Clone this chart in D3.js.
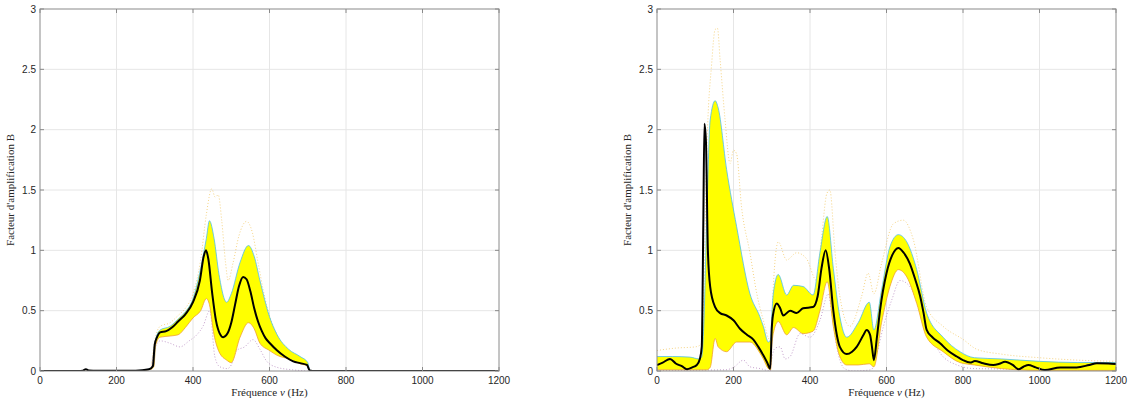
<!DOCTYPE html>
<html>

<head>
    <meta charset="utf-8">
    <style>
        body {
            margin: 0;
            background: #fff;
        }

        svg {
            display: block;
        }

        .tick-label {
            font-family: 'Liberation Sans', Arial, sans-serif;
            font-size: 10px;
            fill: #262626;
        }

        .axis-title {
            font-family: 'Liberation Serif', 'DejaVu Serif', serif;
            font-size: 11px;
            fill: #262626;
        }
    </style>
</head>

<body>
    <svg width="1129" height="403"></svg>
</body>

<script src="https://d3js.org/d3.v7.min.js"></script>

<script>
    // tick labels
    let xTicks = [0, 200, 400, 600, 800, 1000, 1200]
    let yTicks = [0, 0.5, 1, 1.5, 2, 2.5, 3]

    // ---- left panel ----
    // yellow band, upper and lower edge on a common frequency grid
    let leftBandF = [0, 100, 115, 120, 125, 140, 250, 290, 298, 302, 314, 340, 361, 380, 400, 420, 435, 443, 455, 468, 488, 500, 523, 545, 560, 575, 600, 620, 650, 680, 700, 705, 710, 800, 1200]
    let leftBandHi = [0, 0, 0.005, 0.015, 0.005, 0, 0.003, 0.02, 0.05, 0.26, 0.34, 0.37, 0.43, 0.49, 0.6, 0.85, 1.1, 1.245, 1.1, 0.8, 0.57, 0.64, 0.9, 1.04, 0.95, 0.75, 0.45, 0.3, 0.18, 0.12, 0.07, 0.01, 0, 0, 0]
    let leftBandLo = [0, 0, 0.005, 0.012, 0.005, 0, 0.002, 0.015, 0.04, 0.21, 0.28, 0.29, 0.3, 0.36, 0.44, 0.5, 0.6, 0.55, 0.3, 0.16, 0.09, 0.07, 0.28, 0.4, 0.35, 0.23, 0.17, 0.13, 0.1, 0.06, 0.04, 0.005, 0, 0, 0]

    // black mean curve [frequency, B]
    let leftMean = [[0, 0], [100, 0], [112, 0.003], [120, 0.015], [128, 0.004], [150, 0.002], [250, 0.003], [285, 0.015], [295, 0.04], [300, 0.22], [306, 0.28], [314, 0.32], [330, 0.33], [345, 0.36], [361, 0.41], [380, 0.47], [400, 0.57], [418, 0.75], [428, 0.95], [434, 1.0], [440, 0.93], [450, 0.65], [460, 0.42], [470, 0.31], [479, 0.28], [490, 0.31], [500, 0.4], [510, 0.55], [520, 0.7], [531, 0.78], [540, 0.76], [550, 0.66], [560, 0.52], [570, 0.41], [580, 0.33], [590, 0.27], [601, 0.23], [620, 0.17], [640, 0.12], [662, 0.08], [680, 0.065], [698, 0.05], [705, 0.005], [720, 0], [1200, 0]]

    // dotted extremes
    let leftMax = [[290, 0.02], [300, 0.25], [314, 0.37], [340, 0.4], [361, 0.46], [380, 0.52], [400, 0.64], [420, 0.92], [435, 1.3], [449, 1.51], [458, 1.44], [466, 1.46], [475, 1.25], [485, 0.9], [492, 0.75], [505, 0.9], [520, 1.12], [540, 1.24], [555, 1.15], [570, 0.9], [585, 0.65], [601, 0.45], [620, 0.3], [650, 0.17], [680, 0.09], [697, 0.05], [705, 0]]
    let leftMin = [[290, 0.01], [300, 0.18], [314, 0.25], [340, 0.23], [366, 0.2], [390, 0.25], [410, 0.3], [426, 0.37], [444, 0.5], [457, 0.12], [470, 0.035], [490, 0.02], [500, 0.05], [514, 0.17], [535, 0.2], [557, 0.26], [575, 0.18], [593, 0.08], [620, 0.03], [660, 0.01], [700, 0]]

    // ---- right panel ----
    let rightBandF = [0, 40, 86, 110, 117, 122, 130, 139, 152, 160, 182, 208, 243, 269, 278, 291, 297, 300, 304, 317, 339, 357, 382, 408, 426, 445, 461, 478, 496, 526, 555, 567, 587, 609, 631, 653, 679, 705, 748, 792, 830, 900, 1000, 1100, 1200]
    let rightBandHi = [0.12, 0.12, 0.115, 0.1, 0.12, 0.35, 1.25, 2.08, 2.24, 2.18, 1.67, 1.2, 0.64, 0.45, 0.37, 0.24, 0.26, 0.45, 0.64, 0.8, 0.63, 0.71, 0.7, 0.63, 0.98, 1.28, 0.85, 0.45, 0.28, 0.4, 0.57, 0.34, 0.67, 1.03, 1.13, 1.07, 0.84, 0.48, 0.28, 0.16, 0.11, 0.1, 0.08, 0.07, 0.07]
    let rightBandLo = [0.01, 0.01, 0.01, 0.01, 0.01, 0.01, 0.01, 0.03, 0.27, 0.2, 0.16, 0.24, 0.24, 0.15, 0.1, 0.02, 0.01, 0.2, 0.31, 0.41, 0.3, 0.36, 0.31, 0.33, 0.5, 0.74, 0.37, 0.12, 0.05, 0.05, 0.06, 0.035, 0.4, 0.7, 0.84, 0.78, 0.56, 0.28, 0.16, 0.07, 0.05, 0.02, 0.005, 0.005, 0.005]

    let rightMean = [[0, 0.05], [15, 0.07], [34, 0.1], [50, 0.06], [65, 0.04], [78, 0.015], [92, 0.03], [104, 0.05], [112, 0.1], [117, 0.2], [121, 1.2], [124, 2.05], [128, 1.9], [133, 1.0], [139, 0.7], [152, 0.53], [165, 0.48], [182, 0.46], [200, 0.42], [217, 0.35], [235, 0.3], [252, 0.26], [265, 0.2], [278, 0.13], [288, 0.07], [296, 0.02], [300, 0.35], [303, 0.46], [313, 0.56], [322, 0.52], [330, 0.46], [348, 0.5], [365, 0.48], [382, 0.52], [408, 0.53], [420, 0.62], [430, 0.85], [441, 1.0], [450, 0.85], [461, 0.5], [470, 0.3], [478, 0.2], [496, 0.14], [510, 0.16], [522, 0.2], [540, 0.3], [548, 0.34], [557, 0.3], [562, 0.2], [567, 0.09], [575, 0.28], [583, 0.5], [600, 0.81], [615, 0.96], [631, 1.02], [645, 0.98], [661, 0.89], [675, 0.76], [688, 0.62], [697, 0.48], [705, 0.34], [720, 0.28], [740, 0.23], [760, 0.17], [784, 0.12], [800, 0.09], [819, 0.07], [831, 0.083], [853, 0.064], [879, 0.05], [895, 0.06], [910, 0.077], [930, 0.05], [945, 0.014], [958, 0.035], [971, 0.05], [990, 0.03], [1014, 0.008], [1054, 0.03], [1097, 0.03], [1130, 0.05], [1150, 0.064], [1180, 0.062], [1200, 0.058]]

    let rightMax = [[0, 0.17], [50, 0.19], [100, 0.2], [115, 0.22], [122, 0.6], [130, 1.8], [143, 2.55], [152, 2.83], [158, 2.84], [165, 2.58], [178, 2.08], [191, 1.72], [200, 1.83], [208, 1.8], [221, 1.36], [243, 0.98], [261, 0.64], [278, 0.42], [295, 0.26], [299, 0.3], [304, 0.7], [317, 1.07], [339, 0.92], [365, 0.98], [391, 0.93], [417, 0.75], [430, 1.1], [444, 1.47], [452, 1.5], [465, 1.0], [478, 0.62], [504, 0.37], [535, 0.62], [552, 0.81], [567, 0.64], [587, 0.89], [618, 1.22], [644, 1.25], [670, 1.09], [705, 0.53], [748, 0.37], [801, 0.26], [836, 0.18], [900, 0.14], [1000, 0.11], [1100, 0.09], [1200, 0.08]]
    let rightMin = [[0, 0.005], [180, 0.01], [200, 0.03], [226, 0.09], [243, 0.035], [270, 0.02], [296, 0], [300, 0.1], [309, 0.19], [322, 0.2], [335, 0.1], [348, 0.12], [374, 0.31], [400, 0.28], [426, 0.42], [448, 0.64], [456, 0.5], [470, 0.2], [490, 0.02], [513, 0], [560, 0.01], [575, 0.15], [592, 0.37], [615, 0.6], [635, 0.75], [661, 0.7], [696, 0.45], [740, 0.15], [784, 0.05], [830, 0.02], [1200, 0.01]]

    let svg = d3.select("svg")

    function drawPanel(left, p) {
        let right = left + 459
        let top = 9
        let bottom = 371

        let x = d3.scaleLinear().domain([0, 1200]).range([left, right])
        let y = d3.scaleLinear().domain([0, 3]).range([bottom, top])

        let g = svg.append("g")

        // grid
        g.selectAll(".vgrid")
            .data(xTicks.slice(1, -1))
            .join("line")
            .attr("x1", d => x(d)).attr("x2", d => x(d))
            .attr("y1", top).attr("y2", bottom)
            .style("stroke", "#e6e6e6")
        g.selectAll(".hgrid")
            .data(yTicks.slice(1, -1))
            .join("line")
            .attr("x1", left).attr("x2", right)
            .attr("y1", d => y(d)).attr("y2", d => y(d))
            .style("stroke", "#e6e6e6")

        let clip = "clip" + left
        svg.append("clipPath").attr("id", clip)
            .append("rect")
            .attr("x", left).attr("y", top)
            .attr("width", right - left).attr("height", bottom - top)

        let plot = g.append("g").attr("clip-path", "url(#" + clip + ")")

        let band = p.bandF.map((f, i) => ({ f: f, hi: p.hi[i], lo: p.lo[i] }))

        let area = d3.area()
            .x(d => x(d.f))
            .y0(d => y(d.lo))
            .y1(d => y(d.hi))
            .curve(d3.curveMonotoneX)

        let line = d3.line()
            .x(d => x(d[0]))
            .y(d => y(d[1]))
            .curve(d3.curveMonotoneX)

        // dotted extremes first, behind the band
        plot.append("path")
            .attr("d", line(p.max))
            .style("fill", "none")
            .style("stroke", "#EDB120")
            .style("stroke-opacity", 0.55)
            .style("stroke-width", 1)
            .style("stroke-dasharray", "1,2")
        plot.append("path")
            .attr("d", line(p.min))
            .style("fill", "none")
            .style("stroke", "#7E2F8E")
            .style("stroke-opacity", 0.45)
            .style("stroke-width", 1)
            .style("stroke-dasharray", "1,2")

        plot.append("path")
            .attr("d", area(band))
            .style("fill", "#ffff00")

        plot.append("path")
            .attr("d", line(band.map(d => [d.f, d.hi])))
            .style("fill", "none")
            .style("stroke", "#4DBEEE")
            .style("stroke-width", 0.8)
        plot.append("path")
            .attr("d", line(band.map(d => [d.f, d.lo])))
            .style("fill", "none")
            .style("stroke", "#F0A030")
            .style("stroke-width", 0.8)

        plot.append("path")
            .attr("d", line(p.mean))
            .style("fill", "none")
            .style("stroke", "#000")
            .style("stroke-width", 2)
            .style("stroke-linejoin", "round")

        // box and inward ticks
        g.append("rect")
            .attr("x", left).attr("y", top)
            .attr("width", right - left).attr("height", bottom - top)
            .style("fill", "none")
            .style("stroke", "#8a8a8a")
            .style("stroke-width", 1)

        xTicks.forEach(t => {
            g.append("line").attr("x1", x(t)).attr("x2", x(t)).attr("y1", bottom).attr("y2", bottom - 4).style("stroke", "#8a8a8a")
            g.append("line").attr("x1", x(t)).attr("x2", x(t)).attr("y1", top).attr("y2", top + 4).style("stroke", "#8a8a8a")
        })
        yTicks.forEach(t => {
            g.append("line").attr("x1", left).attr("x2", left + 4).attr("y1", y(t)).attr("y2", y(t)).style("stroke", "#8a8a8a")
            g.append("line").attr("x1", right).attr("x2", right - 4).attr("y1", y(t)).attr("y2", y(t)).style("stroke", "#8a8a8a")
        })

        g.selectAll(".xl")
            .data(xTicks)
            .join("text")
            .attr("class", "tick-label")
            .attr("x", d => x(d))
            .attr("y", bottom + 13)
            .attr("text-anchor", "middle")
            .text(d => d)

        g.selectAll(".yl")
            .data(yTicks)
            .join("text")
            .attr("class", "tick-label")
            .attr("x", left - 4)
            .attr("y", d => y(d) + 3.5)
            .attr("text-anchor", "end")
            .text(d => d)

        let xt = g.append("text")
            .attr("class", "axis-title")
            .attr("x", (left + right) / 2)
            .attr("y", 396)
            .attr("text-anchor", "middle")
        xt.append("tspan").text("Fréquence ")
        xt.append("tspan").style("font-style", "italic").text("ν")
        xt.append("tspan").text(" (Hz)")

        g.append("text")
            .attr("class", "axis-title")
            .attr("transform", "translate(" + (left - 26) + "," + ((top + bottom) / 2) + ") rotate(-90)")
            .attr("text-anchor", "middle")
            .text("Facteur d'amplification B")
    }

    drawPanel(40, { bandF: leftBandF, hi: leftBandHi, lo: leftBandLo, mean: leftMean, max: leftMax, min: leftMin })
    drawPanel(657, { bandF: rightBandF, hi: rightBandHi, lo: rightBandLo, mean: rightMean, max: rightMax, min: rightMin })
</script>

</html>
